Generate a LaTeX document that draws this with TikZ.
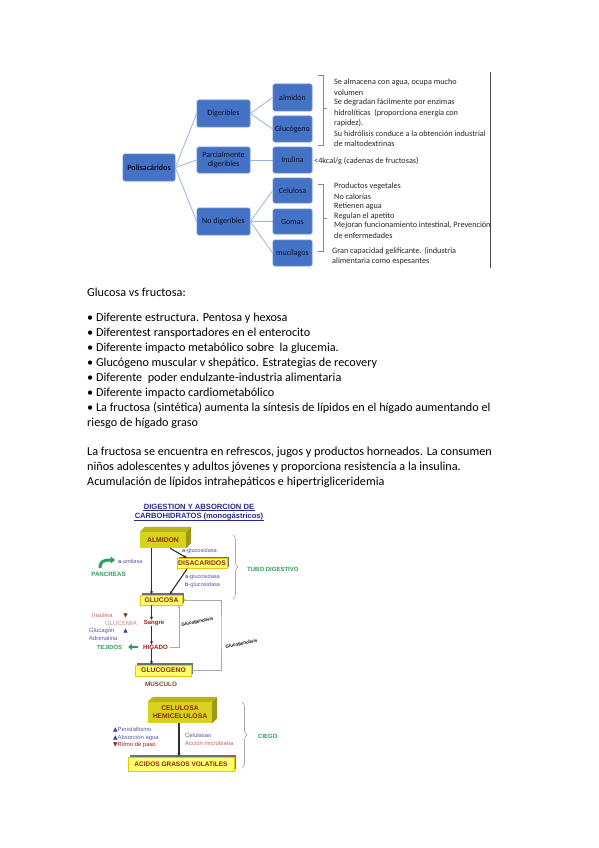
\documentclass[tikz,border=0pt]{standalone}
\usepackage{fontspec}
\setmainfont{Carlito}
\newfontfamily\arialf{Liberation Sans}
\newfontfamily\dejavuf{DejaVu Sans}
\usetikzlibrary{arrows.meta,shadows,decorations.pathreplacing,calc}
\definecolor{bbox}{HTML}{4472C4}
\definecolor{bboxd}{HTML}{6A8CD0}
\definecolor{bline}{HTML}{9DB3E0}
\definecolor{tbtext}{HTML}{0C1228}
\definecolor{ttl}{HTML}{2A2A8C}
\definecolor{boxtxt}{HTML}{8B2A10}
\definecolor{enz}{HTML}{5858A8}
\definecolor{grn}{HTML}{2E9E5B}
\definecolor{dred}{HTML}{9B2020}
\definecolor{pinkr}{HTML}{C86060}
\definecolor{shd}{HTML}{707070}
\definecolor{fboxfill}{HTML}{FFFF70}
\definecolor{fboxdraw}{HTML}{E8C800}
\definecolor{cubefront}{HTML}{D6D21E}
\definecolor{cubetop}{HTML}{B8B41A}
\definecolor{cubeside}{HTML}{9C9812}
\definecolor{darkg}{HTML}{303030}
\definecolor{lgray}{HTML}{A8A8A8}
\definecolor{brgray}{HTML}{888888}
\definecolor{triblue}{HTML}{2E3CB0}
\definecolor{brown}{HTML}{7A4A2A}
\begin{document}
\begin{tikzpicture}[x=1pt,y=-1pt,
  tb/.style={draw=bboxd, fill=bbox, rounded corners=1.5pt, line width=0.6, text=tbtext, font=\fontsize{8}{8.8}\selectfont, inner sep=1pt, align=center},
  tl/.style={draw=bline, line width=0.8},
  rt/.style={anchor=west, inner sep=0, font=\fontsize{8.2}{9}\selectfont, text=black!85},
  brk/.style={draw=brgray, line width=0.6},
  mt/.style={anchor=west, inner sep=0, font=\fontsize{12.2}{14}\selectfont},
  cube/.style={fill=cubefront, inner sep=0, font=\arialf\bfseries\fontsize{6.8}{8}\selectfont, text=boxtxt, align=center},
  fbox/.style={fill=fboxfill, draw=fboxdraw, line width=0.9, inner sep=0, font=\arialf\bfseries\fontsize{6.8}{7}\selectfont, text=boxtxt, drop shadow={shadow xshift=1.8pt, shadow yshift=1.8pt, opacity=1, fill=shd}},
  lbl/.style={inner sep=0, font=\arialf\fontsize{5.9}{6.5}\selectfont},
  elbl/.style={inner sep=0, font=\arialf\fontsize{5.6}{6.5}\selectfont, text=enz, anchor=west},
  blbl/.style={inner sep=0, font=\arialf\bfseries\fontsize{6}{6.5}\selectfont},
  rlbl/.style={inner sep=0, rotate=12, font=\arialf\bfseries\fontsize{4.5}{5}\selectfont},
  darr/.style={draw=darkg, line width=1.1, -{Stealth[length=3.5pt,width=3pt]}},
  garr/.style={draw=lgray, line width=0.8, -{Stealth[length=3pt,width=2.6pt]}},
  cbrace/.style={draw=lgray, line width=0.7, decorate, decoration={brace, amplitude=5pt}}
]
\useasboundingbox[fill=white] (0,0) rectangle (599,848);

% ---------------- top tree ----------------
\node[tb, minimum width=52, minimum height=27, font=\bfseries\fontsize{8}{8.8}\selectfont] (pol) at (149,167.5) {Polisacáridos};
\node[tb, minimum width=53, minimum height=27] (dig) at (223.5,113.5) {Digeribles};
\node[tb, minimum width=53, minimum height=26] (par) at (223.5,160) {Parcialmente\\digeribles};
\node[tb, minimum width=53, minimum height=27] (nod) at (223.5,221.5) {No digeribles};
\node[tb, minimum width=39, minimum height=27] (alm) at (292.5,97.5) {almidón};
\node[tb, minimum width=39, minimum height=26] (glu) at (292.5,129) {Glucógeno};
\node[tb, minimum width=39, minimum height=26] (inu) at (292.5,160) {Inulina};
\node[tb, minimum width=39, minimum height=25] (cel) at (292.5,190.5) {Celulosa};
\node[tb, minimum width=39, minimum height=25] (gom) at (292.5,221.5) {Gomas};
\node[tb, minimum width=39, minimum height=26] (muc) at (292.5,253) {mucílagos};
\draw[tl] (pol.east) -- (dig.west);
\draw[tl] (pol.east) -- (par.west);
\draw[tl] (pol.east) -- (nod.west);
\draw[tl] (dig.east) -- (alm.west);
\draw[tl] (dig.east) -- (glu.west);
\draw[tl] (par.east) -- (inu.west);
\draw[tl] (nod.east) -- (cel.west);
\draw[tl] (nod.east) -- (gom.west);
\draw[tl] (nod.east) -- (muc.west);

% brackets
\coordinate (b1t) at (318,75);
\coordinate (b1b) at (318,145);
\draw[brk] (b1t) -- ++(5,0) -- ++(0,70) -- (b1b);
\draw[brk] (323,108) -- (327,108);
\coordinate (b2t) at (318,184);
\coordinate (b2b) at (318,251);
\draw[brk] (b2t) -- ++(5,0) -- ++(0,67) -- (b2b);
\draw[brk] (323,218) -- (327,218);

\node[rt] (r1) at (334,82) {Se almacena con agua, ocupa mucho};
\node[rt] (r2) at (334,92.3) {volumen};
\node[rt] (r3) at (334,102.6) {Se degradan fácilmente por enzimas};
\node[rt] (r4) at (334,112.9) {hidrolíticas\ \ (proporciona energía con};
\node[rt] (r5) at (334,123.2) {rapidez).};
\node[rt] (r6) at (334,133.5) {Su hidrólisis conduce a la obtención industrial};
\node[rt] (r7) at (334,143.8) {de maltodextrinas};
\node[rt] (ri) at (314,161) {<4kcal/g (cadenas de fructosas)};
\node[rt] (s1) at (334,186.5) {Productos vegetales};
\node[rt] (s2) at (334,196.3) {No calorías};
\node[rt] (s3) at (334,206.1) {Retienen agua};
\node[rt] (s4) at (334,215.9) {Regulan el apetito};
\node[rt] (s5) at (334,225.7) {Mejoran funcionamiento intestinal, Prevención};
\node[rt] (s6) at (334,235.5) {de enfermedades};
\node[rt] (s7) at (332,251) {Gran capacidad gelificante. (industria};
\node[rt] (s8) at (332,261) {alimentaria como espesantes};

\coordinate (vt) at (490.5,72);
\coordinate (vb) at (490.5,268);
\draw[draw=black!70, line width=1.3] (vt) -- (vb);

% ---------------- text ----------------
\node[mt] (g0) at (87,292) {Glucosa vs fructosa:};
\node[mt] (g1) at (87,318) {• Diferente estructura. Pentosa y hexosa};
\node[mt] (g2) at (87,333) {• Diferentest ransportadores en el enterocito};
\node[mt] (g3) at (87,348) {• Diferente impacto metabólico sobre\ \ la glucemia.};
\node[mt] (g4) at (87,363) {• Glucógeno muscular v shepático. Estrategias de recovery};
\node[mt] (g5) at (87,378) {• Diferente\ \ poder endulzante-industria alimentaria};
\node[mt] (g6) at (87,393) {• Diferente impacto cardiometabólico};
\node[mt] (g7) at (87,408) {• La fructosa (sintética) aumenta la síntesis de lípidos en el hígado aumentando el};
\node[mt] (g8) at (87,423) {riesgo de hígado graso};
\node[mt] (h1) at (87,452) {La fructosa se encuentra en refrescos, jugos y productos horneados. La consumen};
\node[mt] (h2) at (87,467) {niños adolescentes y adultos jóvenes y proporciona resistencia a la insulina.};
\node[mt] (h3) at (87,482) {Acumulación de lípidos intrahepáticos e hipertrigliceridemia};

% ---------------- lower diagram ----------------
\node[inner sep=0.4pt, font=\arialf\bfseries\fontsize{7.6}{8}\selectfont, text=ttl] (t1) at (199,507) {DIGESTION Y ABSORCION DE};
\node[inner sep=0.4pt, font=\arialf\bfseries\fontsize{7.6}{8}\selectfont, text=ttl] (t2) at (199,516.5) {CARBOHIDRATOS (monogástricos)};
\draw[ttl, line width=0.4] (t1.south west) -- (t1.south east);
\draw[ttl, line width=0.4] (t2.south west) -- (t2.south east);

% ALMIDON cube
\node[cube, minimum width=46, minimum height=16] (almi) at (163,540) {ALMIDON};
\fill[cubetop] (almi.north west) -- ++(5,-5) -- ([shift={(5,-5)}]almi.north east) -- (almi.north east) -- cycle;
\fill[cubeside] (almi.north east) -- ++(5,-5) -- ([shift={(5,-5)}]almi.south east) -- (almi.south east) -- cycle;

\node[fbox, minimum width=50, minimum height=10] (disa) at (202,563.5) {DISACARIDOS};
\node[fbox, minimum width=42, minimum height=10] (gluc) at (161.5,600) {GLUCOSA};
\node[fbox, minimum width=56, minimum height=11] (glgn) at (163.5,670.5) {GLUCOGENO};

\node[blbl, text=dred] (sang) at (154,623) {Sangre};
\node[blbl, text=dred, font=\arialf\bfseries\fontsize{6.2}{6.5}\selectfont] (higa) at (155.5,647) {HIGADO};
\node[blbl, text=brown, font=\arialf\bfseries\fontsize{6.3}{6.5}\selectfont] (musc) at (161,684) {MUSCULO};

\coordinate (col) at (151.5,0);
\draw[darr] (col |- almi.south) -- (col |- gluc.north);
\draw[darr] ([xshift=7pt]almi.south) -- ([xshift=-15pt]disa.north);
\draw[darr] ([xshift=-15pt]disa.south) -- ([xshift=8pt]gluc.north);
\draw[darr] (col |- gluc.south) -- (col |- sang.north);
\draw[darr] (col |- sang.south) -- (col |- higa.north);
\draw[darr] (col |- higa.south) -- (col |- glgn.north);
\draw[garr] ([xshift=1.5pt]higa.east) -| ([xshift=17.5pt]gluc.south);
\coordinate (loopc) at (221,630);
\draw[garr] (glgn.east) -| (loopc) |- (gluc.east);

\node[rlbl] (gl1) at (197.5,622) {Glucogenolisis};
\node[rlbl] (gl2) at (241.5,644) {Glucogenolisis};

\node[elbl] (e1) at (182,551) {\textbf{a}-glucosidasa};
\node[elbl] (e2) at (185,577) {\textbf{a}-glucosidasa};
\node[elbl] (e3) at (185,585) {\textbf{b}-glucosidasa};

\coordinate (br1t) at (233,535);
\coordinate (br1b) at (233,599);
\draw[cbrace] (br1t) -- (br1b);
\node[blbl, anchor=west, text=grn] (tubo) at (247,569) {TUBO DIGESTIVO};

% pancreas
\coordinate (pa1) at (100,568);
\coordinate (pa2) at (115,560);
\draw[grn, line width=3, -{Triangle[length=4.5pt,width=7pt]}] (pa1) .. controls (100,561) and (104,560) .. (pa2);
\node[elbl] (amil) at (118,561) {\textbf{a}-amilasa};
\node[blbl, text=grn, font=\arialf\bfseries\fontsize{6.2}{6.5}\selectfont] (panc) at (108.5,574) {PANCREAS};

% left labels
\node[lbl, anchor=west, text=pinkr] (insu) at (92,615) {Insulina};
\node[inner sep=0, text=dred, font=\dejavuf\fontsize{5.8}{6}\selectfont] (tri1) at (125.5,615.5) {▼};
\node[lbl, text=pinkr!80, font=\arialf\fontsize{6.1}{6.5}\selectfont] (glce) at (121,623) {GLUCEMIA};
\node[lbl, anchor=west, text=enz] (gcg) at (89,631) {Glucagón};
\node[inner sep=0, text=triblue, font=\dejavuf\fontsize{5.8}{6}\selectfont] (tri2) at (125.5,630.5) {▲};
\node[lbl, anchor=west, text=enz] (adre) at (89,638) {Adrenalina};
\node[blbl, text=grn, font=\arialf\bfseries\fontsize{5.8}{6.5}\selectfont] (teji) at (109.5,647) {TEJIDOS};
\draw[grn, line width=2.6, -{Triangle[length=4pt,width=6pt]}] ([xshift=-5pt]higa.west) -- ([xshift=6pt]teji.east);

% cellulose part
\node[cube, minimum width=64, minimum height=21] (celu) at (180,712.5) {CELULOSA\\HEMICELULOSA};
\fill[cubetop] (celu.north west) -- ++(5,-5) -- ([shift={(5,-5)}]celu.north east) -- (celu.north east) -- cycle;
\fill[cubeside] (celu.north east) -- ++(5,-5) -- ([shift={(5,-5)}]celu.south east) -- (celu.south east) -- cycle;
\node[fbox, minimum width=106, minimum height=14, font=\arialf\bfseries\fontsize{6.5}{7}\selectfont] (acid) at (181,764) {ACIDOS GRASOS VOLATILES};
\draw[darr] ([xshift=-1pt]celu.south) -- ([xshift=-2pt]acid.north);

\node[lbl, anchor=west, text=enz] (peri) at (113,730) {{\dejavuf\color{triblue}▲}Peristaltismo};
\node[lbl, anchor=west, text=enz] (absa) at (113,737.5) {{\dejavuf\color{triblue}▲}Absorción agua};
\node[lbl, anchor=west, text=dred] (ritm) at (113,745) {{\dejavuf\color{dred}▼}Ritmo de paso};
\node[lbl, anchor=west, text=enz] (cels) at (185,735) {Celulasas};
\node[lbl, anchor=west, text=pinkr] (accm) at (185,743) {Acción microbiana};

\coordinate (br2t) at (242,702);
\coordinate (br2b) at (242,768);
\draw[cbrace] (br2t) -- (br2b);
\node[blbl, anchor=west, text=grn] (cieg) at (258,736) {CIEGO};
\end{tikzpicture}
\end{document}
